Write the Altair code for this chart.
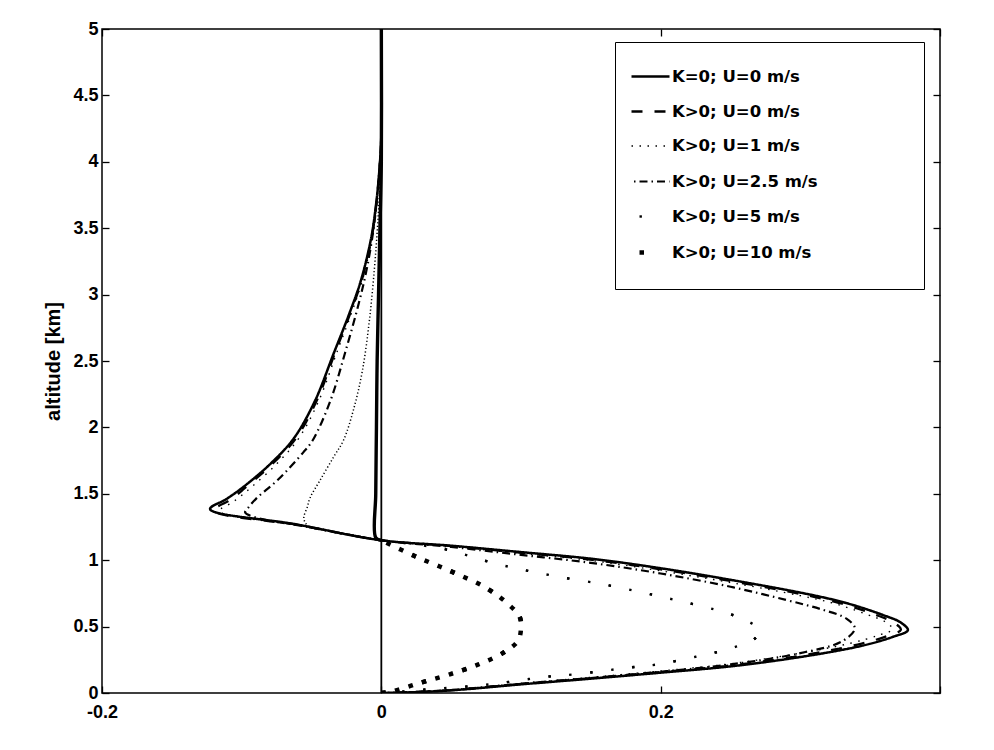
import altair as alt
import pandas as pd

# ---------------- data ----------------
SERIES = ["K=0; U=0 m/s", "K>0; U=0 m/s", "K>0; U=1 m/s",
          "K>0; U=2.5 m/s", "K>0; U=5 m/s", "K>0; U=10 m/s"]

X_TICKS = [-0.2, 0, 0.2, 0.4]
X_LABELLED = [-0.2, 0, 0.2]
Y_TICKS = [0, 0.5, 1, 1.5, 2, 2.5, 3, 3.5, 4, 4.5, 5]
X_DOMAIN = [-0.2, 0.4]
Y_DOMAIN = [0, 5]
Y_TITLE = "altitude [km]"

# K=0; U=0 m/s (solid)
ALT_S1 = [0, 0.005, 0.02, 0.065, 0.108, 0.153, 0.204, 0.281, 0.358, 0.422, 0.473,
          0.53, 0.588, 0.677, 0.741, 0.843, 0.933, 1.009, 1.06, 1.11, 1.15,
          1.27, 1.385, 1.46, 1.55, 1.73, 1.92, 2.2, 2.56, 2.86, 3.11, 3.43, 3.66, 3.86, 4.2, 5.0]
X_S1 = [0, 0.02, 0.05, 0.1, 0.15, 0.2, 0.253, 0.306, 0.345, 0.366, 0.377,
        0.372, 0.359, 0.333, 0.307, 0.255, 0.204, 0.152, 0.101, 0.049, 0,
        -0.061, -0.1226, -0.111, -0.099, -0.079, -0.0625, -0.0475, -0.034, -0.0228, -0.0145, -0.0072, -0.004, -0.002, 0, 0]

# K>0; U=0 m/s (dashed)
ALT_S2 = [0, 0.006, 0.022, 0.068, 0.112, 0.158, 0.21, 0.288, 0.365, 0.428, 0.476,
          0.53, 0.585, 0.672, 0.735, 0.836, 0.926, 1.003, 1.056, 1.108, 1.15,
          1.265, 1.375, 1.455, 1.55, 1.73, 1.92, 2.2, 2.56, 2.86, 3.11, 3.43, 3.66, 3.86, 4.2, 5.0]
X_S2 = [0, 0.02, 0.05, 0.1, 0.15, 0.2, 0.252, 0.304, 0.341, 0.362, 0.372,
        0.367, 0.355, 0.33, 0.305, 0.254, 0.203, 0.151, 0.1, 0.048, 0,
        -0.06, -0.12, -0.108, -0.097, -0.0775, -0.061, -0.0463, -0.0332, -0.0222, -0.014, -0.0069, -0.0038, -0.0019, 0, 0]

# K>0; U=1 m/s (dotted)
ALT_S3 = [0, 0.007, 0.025, 0.072, 0.118, 0.166, 0.22, 0.3, 0.375, 0.435, 0.48,
          0.535, 0.59, 0.672, 0.733, 0.832, 0.92, 0.998, 1.052, 1.105, 1.15,
          1.26, 1.37, 1.44, 1.55, 1.73, 1.92, 2.2, 2.56, 2.86, 3.11, 3.43, 3.66, 3.86, 4.2, 5.0]
X_S3 = [0, 0.02, 0.05, 0.1, 0.15, 0.2, 0.25, 0.3, 0.336, 0.356, 0.366,
        0.361, 0.348, 0.325, 0.3, 0.25, 0.2, 0.15, 0.1, 0.048, 0,
        -0.058, -0.116, -0.106, -0.093, -0.0745, -0.059, -0.0448, -0.032, -0.0214, -0.0135, -0.0066, -0.0036, -0.0018, 0, 0]

# K>0; U=2.5 m/s (dash-dot)
ALT_S4 = [0, 0.006, 0.022, 0.07, 0.113, 0.16, 0.215, 0.3, 0.39, 0.485,
          0.56, 0.63, 0.7, 0.8, 0.9, 0.98, 1.04, 1.1, 1.15,
          1.246, 1.322, 1.36, 1.40, 1.47, 1.60, 1.81, 1.905, 2.2, 2.56, 2.94, 3.19, 3.5, 3.8, 4.2, 5.0]
X_S4 = [0, 0.02, 0.05, 0.1, 0.15, 0.2, 0.25, 0.3, 0.33, 0.339,
        0.333, 0.315, 0.29, 0.25, 0.2, 0.15, 0.1, 0.05, 0,
        -0.05, -0.09, -0.0975, -0.095, -0.089, -0.0746, -0.056, -0.049, -0.0365, -0.026, -0.016, -0.0105, -0.0055, -0.0025, 0, 0]

# K>0; U=5 m/s (points) - below and above the crossing at 1.15 km
ALT_S5_LO = [0, 0.025, 0.059, 0.089, 0.12, 0.141, 0.192, 0.217, 0.273, 0.307, 0.345,
             0.396, 0.473, 0.537, 0.60, 0.652, 0.728, 0.81, 0.887, 0.971, 1.086, 1.15]
X_S5_LO = [0, 0.03, 0.072, 0.095, 0.116, 0.139, 0.178, 0.199, 0.225, 0.24, 0.253,
           0.266, 0.271, 0.263, 0.248, 0.23, 0.199, 0.163, 0.121, 0.083, 0.044, 0]
ALT_S5_UP = [1.15, 1.207, 1.246, 1.275, 1.32, 1.40, 1.47, 1.60, 1.78, 1.905, 2.15, 2.43,
             2.81, 3.19, 3.5, 3.8, 4.2, 5.0]
X_S5_UP = [0, -0.03, -0.05, -0.054, -0.0555, -0.053, -0.051, -0.044, -0.034, -0.027, -0.0195, -0.0135,
           -0.0085, -0.005, -0.0028, -0.0012, 0, 0]

# K>0; U=10 m/s (bold points)
ALT_S6_LO = [0, 0.013, 0.077, 0.141, 0.217, 0.307, 0.396, 0.498, 0.575, 0.677, 0.792, 0.92, 1.035, 1.15]
X_S6_LO = [0, 0.008, 0.028, 0.049, 0.07, 0.088, 0.098, 0.1, 0.099, 0.09, 0.075, 0.049, 0.023, 0]
ALT_S6_UP = [1.15, 1.17, 1.5, 2.0, 2.5, 3.0, 3.5, 4.0, 5.0]
X_S6_UP = [0, -0.004, -0.004, -0.0035, -0.003, -0.002, -0.001, 0, 0]

# zero reference line
ZERO_X = [0]

# ---------------- styles ----------------
# dash patterns are laid out for a legend dash offset of -8 px
DASHES = [[1, 0], [3, 12, 8, 0], [1.5, 6.5], [8, 4, 1.5, 4], [2.4, 39.6], [4.5, 37.5]]
WIDTHS = [2.5, 2.3, 1.4, 2.2, 2.4, 4.5]
W, H = 838, 664
FONT = "Liberation Sans"
LEGEND_FONT = "DejaVu Sans"
CURVE = "catmull-rom"


def frame(items):
    rows = []
    for name, xs, ys in items:
        for i, (xv, yv) in enumerate(zip(xs, ys)):
            rows.append({"series": name, "x": xv, "alt": yv, "idx": i})
    return pd.DataFrame(rows)


main_df = frame([(SERIES[0], X_S1, ALT_S1), (SERIES[1], X_S2, ALT_S2),
                 (SERIES[2], X_S3, ALT_S3), (SERIES[3], X_S4, ALT_S4),
                 (SERIES[4], X_S5_LO, ALT_S5_LO), (SERIES[5], X_S6_LO, ALT_S6_LO)])
lo5_df = frame([(SERIES[4], X_S5_LO, ALT_S5_LO)])
lo10_df = frame([(SERIES[5], X_S6_LO, ALT_S6_LO)])
up5_df = frame([(SERIES[4], X_S5_UP, ALT_S5_UP)])
up10_df = frame([(SERIES[5], X_S6_UP, ALT_S6_UP)])
zero_df = pd.DataFrame({"x": ZERO_X})

xscale = alt.Scale(domain=X_DOMAIN, nice=False, zero=False)
yscale = alt.Scale(domain=Y_DOMAIN, nice=False, zero=False)

tick_only = dict(labels=False, ticks=True, domain=False, grid=False, title=None,
                 tickSize=7, tickWidth=1.3, tickColor="black")

x_main_axis = alt.Axis(
    orient="bottom", values=X_LABELLED, ticks=False, tickSize=0, domain=False, grid=False,
    title=None, labelPadding=10, labelFont=FONT, labelFontSize=18, labelFontWeight="bold",
    labelColor="black", labelFlush=False,
    labelExpr="replace(format(datum.value, '.1~f'), '\u2212', '-')",
)
y_main_axis = alt.Axis(
    orient="left", values=Y_TICKS, ticks=False, tickSize=0, domain=False, grid=False,
    format=".1~f", labelPadding=4, labelFont=FONT, labelFontSize=18, labelFontWeight="bold",
    labelColor="black", labelFlush=False, title=Y_TITLE, titleFont=FONT, titleFontSize=20,
    titleFontWeight="bold", titleColor="black", titlePadding=9,
)

# invisible trailing pad (non-breaking spaces closed by a zero-width char) widens the legend box
pad = "\u00a0" * 16 + "\u200b"
legend = alt.Legend(
    title="\u00a0\u200b", titleOrient="bottom", titleFontSize=9, titlePadding=4,
    orient="none", legendX=513, legendY=13, padding=14,
    strokeColor="black", fillColor="white", symbolType="stroke", symbolSize=1444,
    symbolStrokeColor="black", symbolDashOffset=-8,
    labelFont=LEGEND_FONT, labelFontSize=16.5, labelFontWeight="bold",
    labelColor="black", labelOffset=0, labelLimit=500, rowPadding=6,
    labelExpr=f"datum.label + '{pad}'",
)

dash_scale = alt.Scale(domain=SERIES, range=DASHES)
width_scale = alt.Scale(type="ordinal", domain=SERIES, range=WIDTHS)

zero = alt.Chart(zero_df).mark_rule(color="black", strokeWidth=1.8).encode(
    x=alt.X("x:Q", scale=xscale, axis=None),
)

main = alt.Chart(main_df).mark_line(color="black", strokeCap="butt", strokeJoin="round",
                                    interpolate=CURVE, clip=True).encode(
    x=alt.X("x:Q", scale=xscale, axis=x_main_axis),
    y=alt.Y("alt:Q", scale=yscale, axis=y_main_axis),
    order=alt.Order("idx:Q"),
    strokeDash=alt.StrokeDash("series:N", scale=dash_scale, legend=legend),
    strokeWidth=alt.StrokeWidth("series:N", scale=width_scale, legend=legend),
)

lo5 = alt.Chart(lo5_df).mark_line(color="black", strokeDash=[2.4, 18.6], strokeWidth=2.4,
                                  strokeCap="butt", interpolate=CURVE, clip=True).encode(
    x=alt.X("x:Q", scale=xscale, axis=None),
    y=alt.Y("alt:Q", scale=yscale, axis=None),
    order=alt.Order("idx:Q"),
)

lo10 = alt.Chart(lo10_df).mark_line(color="black", strokeDash=[4.5, 9.5], strokeWidth=4.5,
                                    strokeCap="butt", interpolate=CURVE, clip=True).encode(
    x=alt.X("x:Q", scale=xscale, axis=None),
    y=alt.Y("alt:Q", scale=yscale, axis=None),
    order=alt.Order("idx:Q"),
)

up5 = alt.Chart(up5_df).mark_line(color="black", strokeDash=[1.2, 2.3], strokeWidth=1.5,
                                  strokeCap="butt", interpolate=CURVE, clip=True).encode(
    x=alt.X("x:Q", scale=xscale, axis=alt.Axis(orient="top", offset=-H, values=X_TICKS, **tick_only)),
    y=alt.Y("alt:Q", scale=yscale, axis=alt.Axis(orient="right", offset=-W, values=Y_TICKS, **tick_only)),
    order=alt.Order("idx:Q"),
)

up10 = alt.Chart(up10_df).mark_line(color="black", strokeWidth=3.4, interpolate=CURVE, clip=True).encode(
    x=alt.X("x:Q", scale=xscale, axis=alt.Axis(orient="bottom", offset=-H, values=X_TICKS, **tick_only)),
    y=alt.Y("alt:Q", scale=yscale, axis=alt.Axis(orient="left", offset=-W, values=Y_TICKS, **tick_only)),
    order=alt.Order("idx:Q"),
)

chart = alt.layer(zero, main, lo5, lo10, up5, up10).resolve_axis(
    x="independent", y="independent"
).properties(
    width=W, height=H,
    autosize=alt.AutoSizeParams(type="none"),
    padding={"left": 94, "top": 21, "right": 30, "bottom": 40},
    background="white",
).configure(font=FONT).configure_view(stroke="black", strokeWidth=1.5)

chart.save("out.html", embed_options={"renderer": "svg", "actions": False})
